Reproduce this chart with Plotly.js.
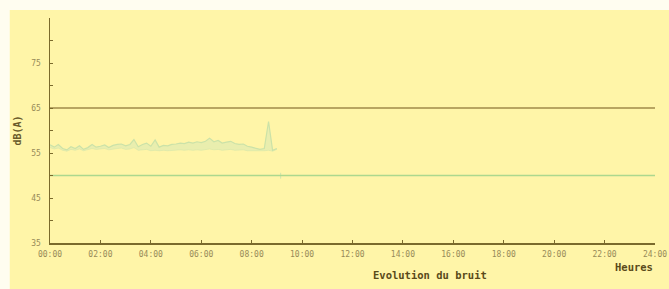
<!DOCTYPE html>
<html><head><meta charset="utf-8">
<script src="https://cdn.plot.ly/plotly-3.0.1.min.js"></script>
<style>html,body{margin:0;padding:0;background:#fff;}#c{width:669px;height:289px;}</style>
</head><body><div id="c"></div>
<script>
const hours = [0,0.17,0.33,0.5,0.67,0.83,1.0,1.17,1.33,1.5,1.67,1.83,2.0,2.17,2.33,2.5,2.67,2.83,3.0,3.17,3.33,3.5,3.67,3.83,4.0,4.17,4.33,4.5,4.67,4.83,5.0,5.17,5.33,5.5,5.67,5.83,6.0,6.17,6.33,6.5,6.67,6.83,7.0,7.17,7.33,7.5,7.67,7.83,8.0,8.17,8.33,8.5,8.67,8.83,9.0];
const levelMax = [56.8,56.3,56.9,56.0,55.7,56.4,56.0,56.6,55.8,56.2,56.9,56.3,56.5,56.8,56.2,56.7,56.9,57.0,56.6,56.9,58.0,56.4,56.9,57.2,56.5,57.9,56.3,56.7,56.6,56.9,57.0,57.2,57.1,57.4,57.2,57.5,57.3,57.6,58.3,57.5,57.8,57.2,57.4,57.6,57.1,56.9,57.0,56.5,56.3,56.0,55.8,56.0,62.0,55.6,56.0];
const levelMin = [56.2,55.9,56.1,55.6,55.4,55.8,55.6,55.9,55.5,55.7,56.0,55.8,55.9,56.0,55.7,55.9,56.0,56.1,55.8,55.9,56.2,55.6,55.7,55.8,55.5,55.6,55.5,55.6,55.5,55.6,55.6,55.7,55.6,55.7,55.6,55.7,55.6,55.8,55.9,55.7,55.8,55.6,55.7,55.8,55.6,55.6,55.7,55.5,55.5,55.4,55.4,55.5,55.6,55.4,55.8];
const stray = {x:[9.15,9.15], y:[49.3,50.6]};
const limitHigh = 65;
const limitLow = 50;
const dayStart = 0, dayEnd = 24;
const tickHours = [0,2,4,6,8,10,12,14,16,18,20,22,24];
const tickLabels = ["00:00","02:00","04:00","06:00","08:00","10:00","12:00","14:00","16:00","18:00","20:00","22:00","24:00"];
const yTicks = [35,45,55,65,75];

const axisCol = '#7a6a2c';
const tickFont = {family:'DejaVu Sans Mono, monospace', size:8, color:'#978a58'};

const traces = [
  {x:hours, y:levelMin, mode:'lines', line:{color:'rgba(205,228,170,0.6)', width:0.8}, hoverinfo:'skip'},
  {x:hours, y:levelMax, mode:'lines', fill:'tonexty', fillcolor:'rgba(212,232,180,0.5)', line:{color:'#cbe2a8', width:1.2}},
  {x:stray.x, y:stray.y, mode:'lines', line:{color:'#cfe4ac', width:1}},
  {x:[dayStart,dayEnd], y:[limitHigh,limitHigh], mode:'lines', line:{color:'#a08a4a', width:1.5}},
  {x:[dayStart,dayEnd], y:[limitLow,limitLow], mode:'lines', line:{color:'#acd88e', width:1.5}}
];

const layout = {
  width:669, height:289,
  margin:{l:50, r:14, t:18, b:46},
  paper_bgcolor:'#fff5a8',
  plot_bgcolor:'#fff5a8',
  showlegend:false,
  xaxis:{range:[0,24], tickvals:tickHours, ticktext:tickLabels, showgrid:false, zeroline:false,
         showline:true, linecolor:axisCol, linewidth:1.5, ticks:'inside', ticklen:3, tickcolor:axisCol,
         tickfont:tickFont, ticklabelstandoff:3, fixedrange:true},
  yaxis:{range:[35,85], tickvals:yTicks, showgrid:false, zeroline:false,
         showline:true, linecolor:axisCol, linewidth:1.5, ticks:'inside', ticklen:3, tickcolor:axisCol,
         minor:{dtick:5, tick0:35, ticks:'inside', ticklen:3, tickcolor:axisCol},
         tickfont:tickFont, ticklabelstandoff:6,
         title:{text:'dB(A)', font:{family:'DejaVu Sans Mono, monospace', size:10, color:'#6a5a2a', weight:'bold'}, standoff:8}},
  shapes:[
    {type:'rect', xref:'paper', yref:'paper', x0:-0.09, x1:-0.0665, y0:-0.3, y1:1.1, fillcolor:'#fffdf0', line:{width:0}, layer:'above'},
    {type:'rect', xref:'paper', yref:'paper', x0:-0.09, x1:1.1, y0:1.036, y1:1.1, fillcolor:'#fffdf0', line:{width:0}, layer:'above'}
  ],
  annotations:[
    {text:'<b>Evolution du bruit</b>', xref:'paper', yref:'paper', x:0.628, y:-0.14, xanchor:'center', yanchor:'middle', showarrow:false,
     font:{family:'DejaVu Sans Mono, monospace', size:10.5, color:'#5a4a1a'}},
    {text:'<b>Heures</b>', xref:'paper', yref:'paper', x:1.0, y:-0.107, xanchor:'right', yanchor:'middle', showarrow:false,
     font:{family:'DejaVu Sans Mono, monospace', size:10.5, color:'#5a4a1a'}}
  ]
};
Plotly.newPlot('c', traces, layout, {displayModeBar:false, staticPlot:true});
</script></body></html>
